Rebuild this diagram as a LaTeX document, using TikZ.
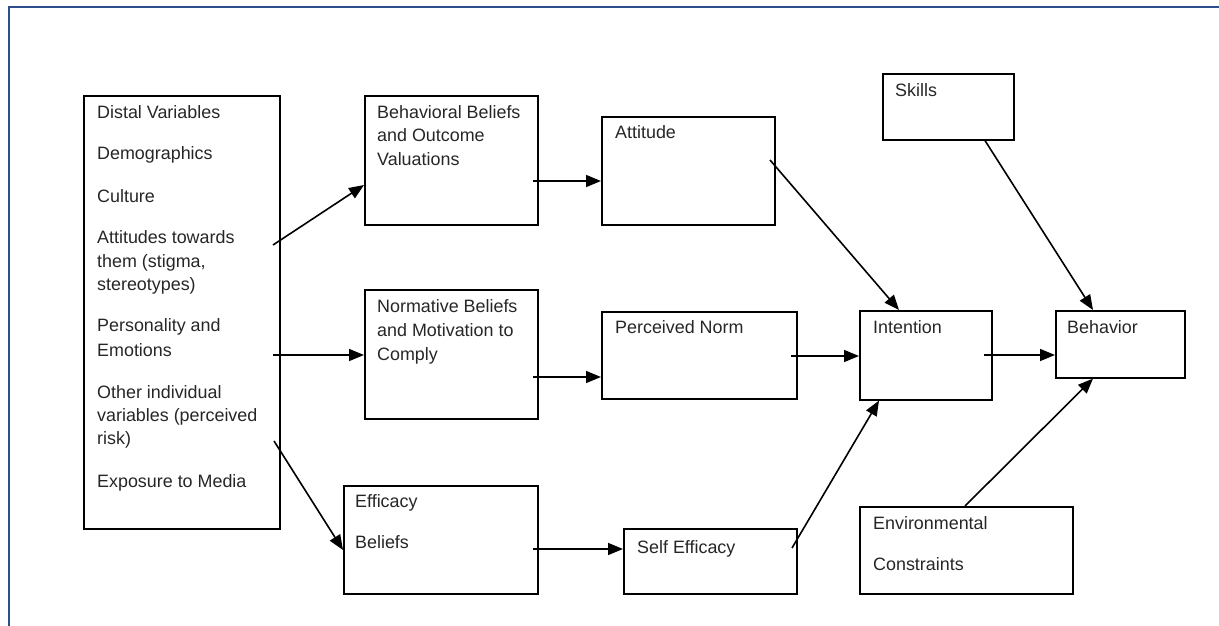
\documentclass[tikz,border=0pt]{standalone}
\usepackage{fontspec}
\setmainfont{Liberation Sans}
\usetikzlibrary{arrows.meta}
\definecolor{framec}{HTML}{2E4D8B}
\definecolor{txtc}{HTML}{262626}
\tikzset{
  box/.style={draw=black, line width=1.6pt, anchor=north west, inner sep=0pt},
  lbl/.style={anchor=base west, inner sep=0pt, text=txtc, font=\fontsize{17.9}{21}\selectfont},
  conn/.style={line width=1.6pt, -{Triangle[length=15pt,width=12pt]}},
  frameline/.style={draw=framec, line width=1.8pt}
}
\begin{document}
\begin{tikzpicture}[x=1pt,y=-1pt]
\useasboundingbox (0,0) rectangle (1219,626);
\draw[frameline] (1219,7) -- (9,7) -- (9,626);

% boxes
\node[box, minimum width=196pt, minimum height=433pt] (distal) at (83,95) {};
\node[box, minimum width=173pt, minimum height=129pt] (behav) at (364,95) {};
\node[box, minimum width=173pt, minimum height=108pt] (att) at (601,116) {};
\node[box, minimum width=173pt, minimum height=129pt] (norm) at (364,289) {};
\node[box, minimum width=195pt, minimum height=87pt] (pnorm) at (601,311) {};
\node[box, minimum width=132pt, minimum height=89pt] (intent) at (859,310) {};
\node[box, minimum width=129pt, minimum height=67pt] (behavior) at (1055,310) {};
\node[box, minimum width=131pt, minimum height=66pt] (skills) at (882,73) {};
\node[box, minimum width=194pt, minimum height=108pt] (eff) at (343,485) {};
\node[box, minimum width=173pt, minimum height=65pt] (self) at (623,528) {};
\node[box, minimum width=213pt, minimum height=87pt] (env) at (859,506) {};

% distal texts
\node[lbl] (d1) at (97,118) {Distal Variables};
\node[lbl] (d2) at (97,159) {Demographics};
\node[lbl] (d3) at (97,202) {Culture};
\node[lbl] (d4a) at (97,243) {Attitudes towards};
\node[lbl] (d4b) at (97,267) {them (stigma,};
\node[lbl] (d4c) at (97,290) {stereotypes)};
\node[lbl] (d5a) at (97,331) {Personality and};
\node[lbl] (d5b) at (97,356) {Emotions};
\node[lbl] (d6a) at (97,398) {Other individual};
\node[lbl] (d6b) at (97,421) {variables (perceived};
\node[lbl] (d6c) at (97,444) {risk)};
\node[lbl] (d7) at (97,487) {Exposure to Media};

% other texts
\node[lbl] (b1) at (377,118) {Behavioral Beliefs};
\node[lbl] (b2) at (377,141) {and Outcome};
\node[lbl] (b3) at (377,165) {Valuations};
\node[lbl] (t1) at (615,139) {Attitude};
\node[lbl] (n1) at (377,312) {Normative Beliefs};
\node[lbl] (n2) at (377,336) {and Motivation to};
\node[lbl] (n3) at (377,360) {Comply};
\node[lbl] (p1) at (615,333) {Perceived Norm};
\node[lbl] (i1) at (873,333) {Intention};
\node[lbl] (h1) at (1067,333) {Behavior};
\node[lbl] (k1) at (895,96) {Skills};
\node[lbl] (e1) at (355,507) {Efficacy};
\node[lbl] (e2) at (355,548) {Beliefs};
\node[lbl] (s1) at (637,553) {Self Efficacy};
\node[lbl] (v1) at (873,529) {Environmental};
\node[lbl] (v2) at (873,570) {Constraints};

% connector start points
\coordinate (c1) at (273,245);
\coordinate (c2) at (273,355);
\coordinate (c3) at (274,441);
\coordinate (c4) at (533,181);
\coordinate (c5) at (533,377);
\coordinate (c6) at (533,549);
\coordinate (c7) at (770,160);
\coordinate (c8) at (791,356);
\coordinate (c9) at (792,548);
\coordinate (c10) at (984,355);

\draw[conn] (c1) -- (behav.west |- 0,185);
\draw[conn] (c2) -- (norm.west |- 0,355);
\draw[conn] (c3) -- (eff.west |- 0,550);
\draw[conn] (c4) -- (att.west |- 0,181);
\draw[conn] (c5) -- (pnorm.west |- 0,377);
\draw[conn] (c6) -- (self.west |- 0,549);
\draw[conn] (c7) -- (intent.north -| 899,0);
\draw[conn] (c8) -- (intent.west |- 0,356);
\draw[conn] (c9) -- (intent.south -| 879,0);
\draw[conn] (c10) -- (behavior.west |- 0,355);
\draw[conn] (skills.south -| 985,0) -- (behavior.north -| 1093,0);
\draw[conn] (env.north -| 965,0) -- (behavior.south -| 1093,0);
\end{tikzpicture}
\end{document}
